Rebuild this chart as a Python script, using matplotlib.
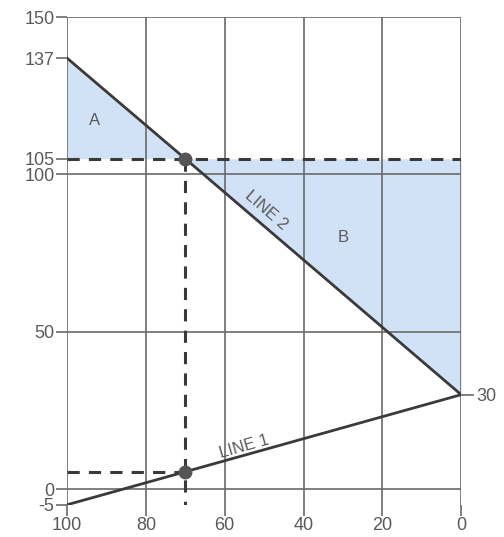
import numpy as np
import matplotlib.pyplot as plt

# data
line1_x = [100, 0]
line1_y = [-5, 30]
line2_x = [100, 70, 0]
line2_y = [137, 105, 30]
quantity = 70
price_high = 105
price_low = 5.5

left_ticks = [150, 137, 105, 100, 50, 0, -5]
bottom_ticks = [100, 80, 60, 40, 20, 0]
grid_y = [150, 100, 50, 0]
right_ticks = [30]

fill_color = '#d2e2f6'
ink = '#3a3a3a'
grid = '#6a6a6a'
text_color = '#5a5a5a'

plt.rcParams['font.family'] = ['Liberation Sans', 'DejaVu Sans']

fig = plt.figure(figsize=(5.04, 5.37), dpi=100)
ax = fig.add_axes([0.133, 0.06, 0.782, 0.908])
ax.set_xlim(100, 0)
ax.set_ylim(-5, 150)

# shaded areas A and B
ax.fill_between(line2_x[:2], [price_high, price_high], line2_y[:2],
                color=fill_color, lw=0, zorder=1)
ax.fill_between(line2_x[1:], [price_high, price_high], line2_y[1:],
                color=fill_color, lw=0, zorder=1)

# grid
for x in bottom_ticks:
    ax.plot([x, x], [-5, 150], color=grid, lw=1.2, zorder=2)
for y in grid_y:
    ax.plot([100, 0], [y, y], color=grid, lw=1.2, zorder=2)

# dashed guides
ax.plot([100, 0], [price_high, price_high], color=ink, lw=2.2,
        dashes=(4, 3), zorder=3)
ax.plot([quantity, quantity], [price_high, -5], color=ink, lw=2.2,
        dashes=(4, 3), zorder=3)
ax.plot([100, quantity], [price_low, price_low], color=ink, lw=2.2,
        dashes=(4, 3), zorder=3)

# lines
ax.plot(line1_x, line1_y, color=ink, lw=2, zorder=4)
ax.plot(line2_x, line2_y, color=ink, lw=2, zorder=4)
ax.plot([quantity, quantity], [price_high, price_low], 'o', color='#555555',
        ms=9, zorder=5)

# labels
ax.text(93, 117, 'A', fontsize=12, color=text_color, ha='center', va='center')
ax.text(30, 80, 'B', fontsize=12, color=text_color, ha='center', va='center')
ax.text(49.5, 88.5, 'LINE 2', fontsize=12, color=text_color, rotation=-41,
        ha='center', va='center', rotation_mode='anchor')
ax.text(55, 13.5, 'LINE 1', fontsize=12, color=text_color, rotation=16,
        ha='center', va='center', rotation_mode='anchor')

for s in ax.spines.values():
    s.set_visible(False)

ax.set_yticks(left_ticks)
ax.set_yticklabels([str(t) for t in left_ticks])
ax.set_xticks(bottom_ticks)
ax.set_xticklabels([str(t) for t in bottom_ticks])
ax.tick_params(axis='both', colors=grid, labelcolor=text_color, labelsize=13,
               length=8, width=1.2, pad=1)

ax2 = ax.twinx()
ax2.set_ylim(-5, 150)
ax2.set_yticks(right_ticks)
ax2.set_yticklabels([str(t) for t in right_ticks])
ax2.tick_params(axis='y', colors=grid, labelcolor=text_color, labelsize=13,
                length=9, width=1.2, pad=2)
for s in ax2.spines.values():
    s.set_visible(False)

fig.savefig('out.png', dpi=100)
